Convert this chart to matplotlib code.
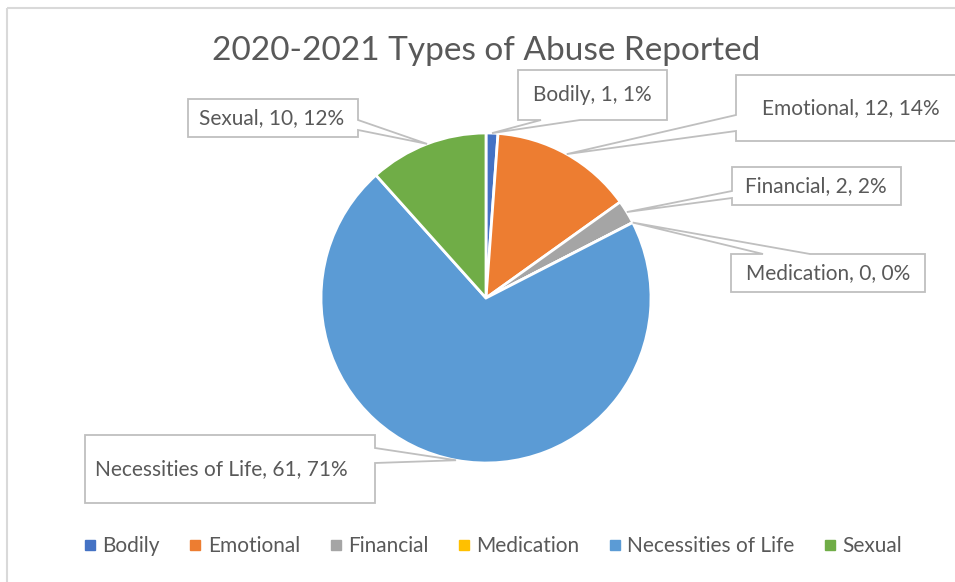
import matplotlib
matplotlib.use("Agg")
import matplotlib.pyplot as plt
from matplotlib.patches import Polygon, Rectangle
from matplotlib.lines import Line2D
import numpy as np

plt.rcParams['font.family'] = ['Lato', 'DejaVu Sans']

# data
categories = ["Bodily", "Emotional", "Financial", "Medication", "Necessities of Life", "Sexual"]
counts = [1, 12, 2, 0, 61, 10]
colors = ["#4472C4", "#ED7D31", "#A5A5A5", "#FFC000", "#5B9BD5", "#70AD47"]
title = "2020-2021 Types of Abuse Reported"

txt_col = "#595959"
box_col = "#BFBFBF"

W, H = 955, 582
fig = plt.figure(figsize=(W / 100, H / 100), dpi=100)
ax = fig.add_axes([0, 0, 1, 1])

# chart border (cut by the picture on right/bottom)
ax.add_patch(Rectangle((6.5, 7.5), 1000, 1000, fill=False, ec="#D9D9D9", lw=1.5))

ax.text(486, 51, title, ha="center", va="center", fontsize=24, color=txt_col)

# pie: y axis is flipped, so start -90 counterclock in data = top, clockwise on screen
cx, cy, R = 486, 298, 165
wedges, _ = ax.pie(counts, colors=colors, startangle=-90, counterclock=True,
                   center=(cx, cy), radius=R, frame=True,
                   wedgeprops=dict(edgecolor="white", linewidth=2))
ax.set_xlim(0, W)
ax.set_ylim(H, 0)
ax.set_aspect("equal")
ax.axis("off")

total = sum(counts)

# label boxes: (x0, y0, x1, y1, side, a, b) in pixels
boxes = [
    (518, 70, 667, 120, "bottom", 541, 580),
    (736, 75, 1000, 141, "left", 115, 131),
    (732, 167, 901, 205, "left", 191, 198),
    (731, 254, 925, 292, "top", 763, 810),
    (85, 435, 375, 503, "right", 448, 463),
    (188, 99, 358, 137, "right", 120, 130),
]
text_x = [592, 851, 816, 828, 95, 272]

for i, w in enumerate(wedges):
    x0, y0, x1, y1, side, a, b = boxes[i]
    if counts[i] == 0:
        th = np.deg2rad(w.theta1)
    else:
        th = np.deg2rad((w.theta1 + w.theta2) / 2)
    tip = (cx + R * np.cos(th), cy + R * np.sin(th))
    if side == "top":
        pts = [(x0, y0), (a, y0), tip, (b, y0), (x1, y0), (x1, y1), (x0, y1)]
    elif side == "right":
        pts = [(x0, y0), (x1, y0), (x1, a), tip, (x1, b), (x1, y1), (x0, y1)]
    elif side == "bottom":
        pts = [(x0, y0), (x1, y0), (x1, y1), (b, y1), tip, (a, y1), (x0, y1)]
    else:
        pts = [(x0, y0), (x1, y0), (x1, y1), (x0, y1), (x0, b), tip, (x0, a)]
    ax.add_patch(Polygon(pts, closed=True, fc="white", ec=box_col, lw=1.3, zorder=3))
    pct = round(100 * counts[i] / total)
    lab = f"{categories[i]}, {counts[i]}, {pct}%"
    ax.text(text_x[i], (y0 + y1) / 2, lab, ha="left" if i == 4 else "center",
            va="center", fontsize=15, color=txt_col, zorder=4)

handles = [Line2D([], [], marker="s", ls="", color=c, markersize=7) for c in colors]
fig.legend(handles, categories, loc="center", bbox_to_anchor=(492 / W, 1 - 546 / H),
           ncol=6, frameon=False, fontsize=15, labelcolor=txt_col,
           handletextpad=0.2, columnspacing=1.3, handlelength=0.8)

fig.savefig("out.png", dpi=100)
